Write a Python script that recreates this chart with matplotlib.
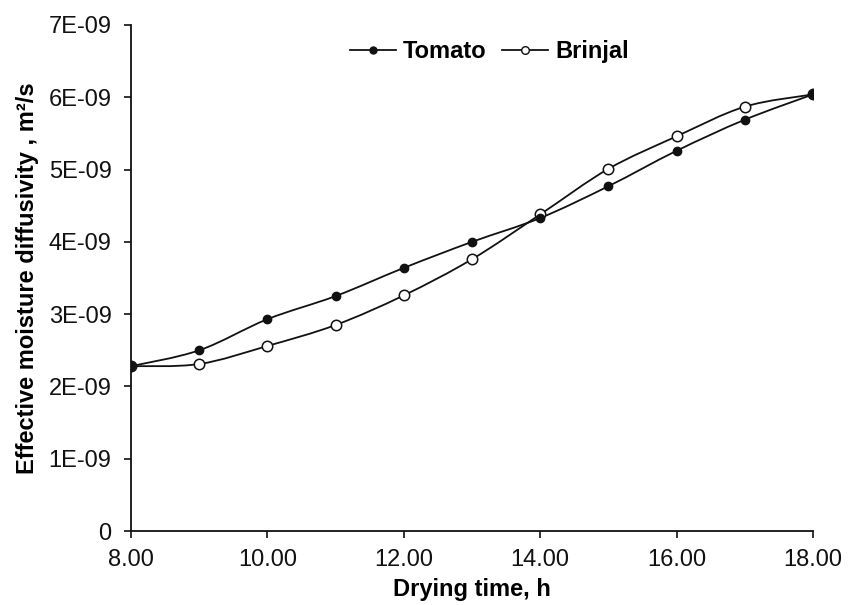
import matplotlib.pyplot as plt
from matplotlib.path import Path
from matplotlib.patches import PathPatch
from matplotlib.lines import Line2D

plt.rcParams['font.family'] = ['Liberation Sans', 'DejaVu Sans']

hours = [8, 9, 10, 11, 12, 13, 14, 15, 16, 17, 18]
tomato = [2.28e-9, 2.50e-9, 2.93e-9, 3.25e-9, 3.64e-9, 4.00e-9, 4.33e-9, 4.77e-9, 5.26e-9, 5.69e-9, 6.04e-9]
brinjal = [2.28e-9, 2.31e-9, 2.56e-9, 2.85e-9, 3.26e-9, 3.76e-9, 4.38e-9, 5.01e-9, 5.46e-9, 5.87e-9, 6.04e-9]
xticks = [8, 10, 12, 14, 16, 18]
yticks = [0, 1e-9, 2e-9, 3e-9, 4e-9, 5e-9, 6e-9, 7e-9]
ytick_labels = ['0', '1E-09', '2E-09', '3E-09', '4E-09', '5E-09', '6E-09', '7E-09']


def smooth_path(xs, ys):
    # Excel-style smoothed line: Catmull-Rom turned into cubic Bezier segments
    pts = list(zip(xs, ys))
    verts = [pts[0]]
    codes = [Path.MOVETO]
    n = len(pts)
    for i in range(n - 1):
        p0 = pts[i - 1] if i > 0 else pts[i]
        p1 = pts[i]
        p2 = pts[i + 1]
        p3 = pts[i + 2] if i + 2 < n else pts[i + 1]
        c1 = (p1[0] + (p2[0] - p0[0]) / 6, p1[1] + (p2[1] - p0[1]) / 6)
        c2 = (p2[0] - (p3[0] - p1[0]) / 6, p2[1] - (p3[1] - p1[1]) / 6)
        verts += [c1, c2, p2]
        codes += [Path.CURVE4] * 3
    return Path(verts, codes)


fig = plt.figure(figsize=(8.58, 6.05), dpi=100)
ax = fig.add_axes([0.1527, 0.1223, 0.7949, 0.8364])

for ys in (tomato, brinjal):
    ax.add_patch(PathPatch(smooth_path(hours, ys), facecolor='none', edgecolor='#111111', lw=1.3))

ax.plot(hours, brinjal, ls='none', marker='o', ms=7.5, mfc='white', mec='#111111', mew=1.1)
ax.plot(hours, tomato, ls='none', marker='o', ms=6, mfc='#111111', mec='#111111')

ax.set_xlim(8, 18)
ax.set_ylim(0, 7e-9)
ax.set_xticks(xticks)
ax.set_xticklabels([f'{t:.2f}' for t in xticks])
ax.set_yticks(yticks)
ax.set_yticklabels(ytick_labels)
ax.tick_params(labelsize=17, length=5, width=1.2, colors='#111111', direction='out')
ax.tick_params(axis='y', pad=9)
ax.tick_params(axis='x', pad=8)

for s in ['top', 'right']:
    ax.spines[s].set_visible(False)
for s in ['left', 'bottom']:
    ax.spines[s].set_linewidth(1.3)
    ax.spines[s].set_color('#111111')

ax.set_xlabel('Drying time, h', fontsize=17, fontweight='bold', labelpad=5)
ax.set_ylabel('Effective moisture diffusivity , m²/s', fontsize=17, fontweight='bold', labelpad=7)

handles = [
    Line2D([], [], color='#111111', lw=1.3, marker='o', ms=5, mfc='#111111', mec='#111111'),
    Line2D([], [], color='#111111', lw=1.3, marker='o', ms=5.5, mfc='white', mec='#111111'),
]
ax.legend(handles, ['Tomato', 'Brinjal'], loc='center', bbox_to_anchor=(0.525, 0.947), ncol=2,
          frameon=False, prop={'size': 17, 'weight': 'bold'}, handlelength=1.95,
          handletextpad=0.3, columnspacing=0.65, borderpad=0, borderaxespad=0)

fig.savefig('out.png', dpi=100)
